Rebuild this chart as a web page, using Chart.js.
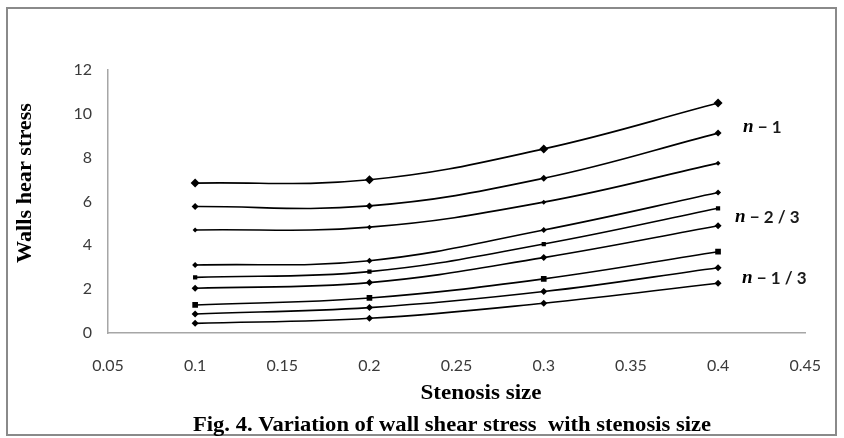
<!DOCTYPE html>
<html>
<head>
<meta charset="utf-8">
<script src="https://cdn.jsdelivr.net/npm/chart.js@4.4.1/dist/chart.umd.min.js"></script>
<style>
  html, body { margin: 0; padding: 0; background: #fff; }
  #wrap { width: 844px; height: 438px; }
</style>
</head>
<body>
<div id="wrap"><canvas id="wss-chart" width="844" height="438"></canvas></div>
<script>
// stenosis size (x)
const stenosis = [0.1, 0.2, 0.3, 0.4];

// wall shear stress, one array per curve, top to bottom
const curve1 = [6.84, 6.99, 8.40, 10.49];
const curve2 = [5.77, 5.80, 7.06, 9.12];
const curve3 = [4.70, 4.83, 5.97, 7.75];
const curve4 = [3.10, 3.30, 4.70, 6.41];
const curve5 = [2.54, 2.80, 4.06, 5.69];
const curve6 = [2.04, 2.30, 3.44, 4.89];
const curve7 = [1.28, 1.60, 2.47, 3.71];
const curve8 = [0.87, 1.16, 1.89, 2.98];
const curve9 = [0.44, 0.67, 1.36, 2.27];

const xTicks = [0.05, 0.1, 0.15, 0.2, 0.25, 0.3, 0.35, 0.4, 0.45];
const yTicks = [0, 2, 4, 6, 8, 10, 12];

const curveLabels = [
  { n: 'n', rest: ' \u2212 1' },
  { n: 'n', rest: ' \u2212 2 / 3' },
  { n: 'n', rest: ' \u2212 1 / 3' }
];

const curves = [curve1, curve2, curve3, curve4, curve5, curve6, curve7, curve8, curve9];
const markers = [
  ['rectRot', 4.5], ['rectRot', 3.5], ['rectRot', 2.5],
  ['rectRot', 3], ['rect', 3], ['rectRot', 3.5],
  ['rect', 4], ['rectRot', 3.5], ['rectRot', 3.5]
];

const datasets = curves.map((vals, i) => ({
  label: 'curve ' + (i + 1),
  data: vals.map((v, k) => ({ x: stenosis[k], y: v })),
  borderColor: '#000',
  backgroundColor: '#000',
  borderWidth: 1.6,
  tension: 0.4,
  pointStyle: markers[i][0],
  pointRadius: markers[i][1],
  pointBackgroundColor: '#000',
  pointBorderColor: '#000',
  pointBorderWidth: 0
}));

// draw text squeezed to a measured width
function fitText(ctx, text, cx, cy, width, font, angle) {
  ctx.save();
  ctx.font = font;
  const w = ctx.measureText(text).width;
  ctx.translate(cx, cy);
  if (angle) ctx.rotate(angle);
  ctx.scale(width / w, 1);
  ctx.textAlign = 'center';
  ctx.textBaseline = 'middle';
  ctx.fillStyle = '#000';
  ctx.fillText(text, 0, 0);
  ctx.restore();
}

const extras = {
  id: 'extras',
  beforeDraw(chart) {
    const ctx = chart.ctx;
    ctx.save();
    ctx.fillStyle = '#fff';
    ctx.fillRect(0, 0, chart.width, chart.height);
    ctx.strokeStyle = '#8a8a8a';
    ctx.lineWidth = 2;
    ctx.strokeRect(7, 8, 829, 427);
    ctx.restore();
  },
  afterDraw(chart) {
    const ctx = chart.ctx;
    fitText(ctx, 'Walls hear stress', 26, 183, 160, 'bold 21px "Liberation Serif"', -Math.PI / 2);
    fitText(ctx, 'Stenosis size', 481, 393, 121, 'bold 22px "Liberation Serif"');
    fitText(ctx, 'Fig. 4. Variation of wall shear stress  with stenosis size', 452, 425, 518, 'bold 22px "Liberation Serif"');

    // curve labels to the right of the last points
    const labelY = [127, 217, 278];
    const labelX = [743, 735, 742];
    curveLabels.forEach((lab, i) => {
      ctx.save();
      ctx.textBaseline = 'middle';
      ctx.fillStyle = '#000';
      ctx.font = 'italic bold 19px "Liberation Serif"';
      ctx.fillText(lab.n, labelX[i], labelY[i]);
      const nw = ctx.measureText(lab.n).width;
      ctx.font = 'bold 17px Lato';
      ctx.fillStyle = '#1a1a1a';
      ctx.fillText(lab.rest, labelX[i] + nw, labelY[i] + 1);
      ctx.restore();
    });
  }
};

new Chart(document.getElementById('wss-chart'), {
  type: 'line',
  data: { datasets },
  options: {
    responsive: false,
    animation: false,
    layout: { padding: { left: 0, right: 30, top: 70, bottom: 0 } },
    plugins: { legend: { display: false }, tooltip: { enabled: false } },
    scales: {
      x: {
        type: 'linear',
        min: 0.05,
        max: 0.45,
        afterBuildTicks: (s) => { s.ticks = xTicks.map(v => ({ value: v })); },
        afterFit: (s) => { s.height = 105; },
        grid: { display: false, drawTicks: false },
        border: { display: true, color: '#a6a6a6', width: 1.5 },
        ticks: {
          padding: 23,
          color: '#3a3a3a',
          font: { family: 'Lato', size: 16 },
          callback: (v) => String(v)
        }
      },
      y: {
        min: 0,
        max: 12,
        afterBuildTicks: (s) => { s.ticks = yTicks.map(v => ({ value: v })); },
        afterFit: (s) => { s.width = 108; },
        grid: { display: false, drawTicks: false },
        border: { display: true, color: '#a6a6a6', width: 1.5 },
        ticks: {
          padding: 16,
          color: '#3a3a3a',
          font: { family: 'Lato', size: 16 }
        }
      }
    }
  },
  plugins: [extras]
});
</script>
</body>
</html>
